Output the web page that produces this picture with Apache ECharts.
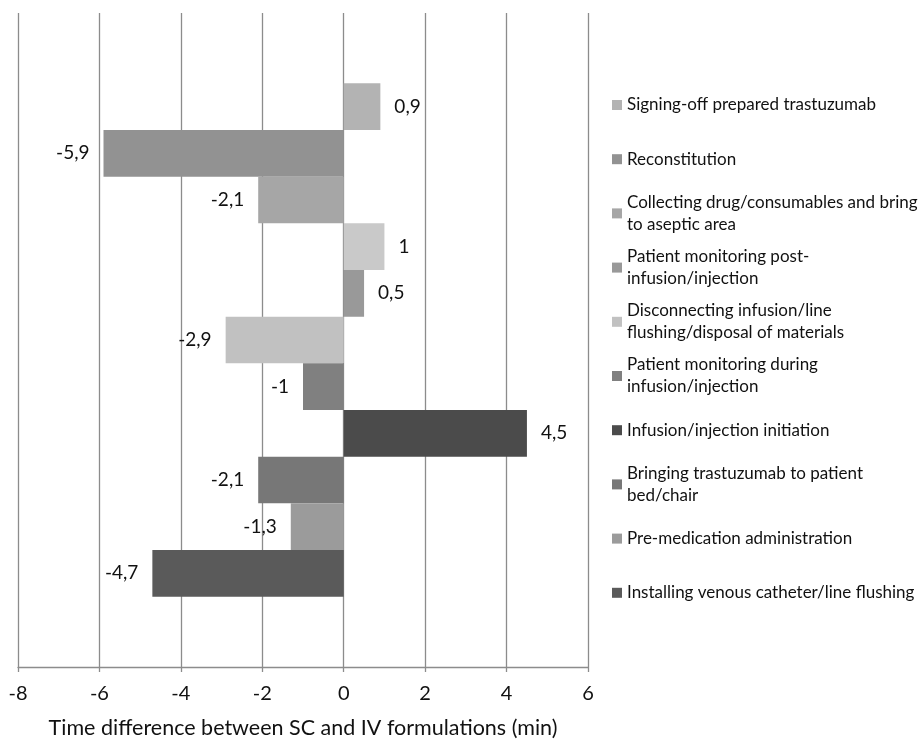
<!DOCTYPE html>
<html>
<head>
<meta charset="utf-8">
<script src="https://cdn.jsdelivr.net/npm/echarts@6/dist/echarts.min.js"></script>
<style>
  html, body { margin: 0; padding: 0; background: #fff; }
  #chart { width: 920px; height: 744px; }
</style>
</head>
<body>
<div id="chart"></div>
<script>
// Process steps, listed top to bottom as the bars are stacked
const steps = [
  'Signing-off prepared trastuzumab',
  'Reconstitution',
  'Collecting drug/consumables and bring\nto aseptic area',
  '',
  'Patient monitoring post-\ninfusion/injection',
  'Disconnecting infusion/line\nflushing/disposal of materials',
  'Patient monitoring during\ninfusion/injection',
  'Infusion/injection initiation',
  'Bringing trastuzumab to patient\nbed/chair',
  'Pre-medication administration',
  'Installing venous catheter/line flushing'
];

// SC minus IV time for each step (min)
const timeDiff = [0.9, -5.9, -2.1, 1, 0.5, -2.9, -1, 4.5, -2.1, -1.3, -4.7];

// x-axis range and tick spacing
const xMin = -8;
const xMax = 6;
const xStep = 2;

// grey shade of each bar
const barColors = ['#b3b3b3', '#929292', '#a6a6a6', '#c9c9c9', '#999999', '#c1c1c1',
                   '#808080', '#4b4b4b', '#777777', '#9b9b9b', '#5a5a5a'];

const FONT = 'Lato';
const TEXT = '#111111';
const GRID = '#8c8c8c';
const LH = 22;            // legend line height
const LEGEND_Y0 = 105;    // first legend row (centre of its first line)
const LEGEND_STEP = 54.2; // distance between legend rows

const fmt = v => String(v).replace('.', ',');

const series = timeDiff.map((v, i) => ({
  type: 'bar',
  name: steps[i] || ('step' + (i + 1)),
  data: [v],
  barGap: '0%',
  barCategoryGap: '21.5%',
  itemStyle: { color: barColors[i] },
  label: {
    show: true,
    position: v >= 0 ? 'right' : 'left',
    distance: 14,
    fontFamily: FONT,
    fontSize: 19,
    color: TEXT,
    formatter: p => fmt(p.value)
  }
}));

// one legend block per labelled step, rows evenly spaced
const legends = [];
let row = 0;
steps.forEach(s => {
  if (!s) return;
  const lines = s.split('\n').length;
  const c = LEGEND_Y0 + LEGEND_STEP * row++;
  legends.push({
    left: 612,
    top: lines > 1 ? c - 1.5 * LH : c - 0.5 * LH,
    orient: 'vertical',
    padding: 0,
    itemGap: 0,
    itemWidth: 10,
    itemHeight: 10,
    icon: 'rect',
    selectedMode: false,
    data: [s],
    textStyle: {
      fontFamily: FONT,
      fontSize: 17,
      color: TEXT,
      lineHeight: LH,
      padding: lines > 1 ? [LH, 0, 0, 0] : 0
    }
  });
});

const chart = echarts.init(document.getElementById('chart'), null, { renderer: 'canvas' });
chart.setOption({
  animation: false,
  backgroundColor: '#fff',
  grid: { left: 18, right: 332, top: 13, bottom: 71 },
  legend: legends,
  xAxis: {
    type: 'value',
    min: xMin,
    max: xMax,
    interval: xStep,
    name: 'Time difference between SC and IV formulations (min)',
    nameLocation: 'middle',
    nameGap: 50,
    nameTextStyle: { fontFamily: FONT, fontSize: 21.5, color: TEXT },
    axisLine: { show: true, onZero: false, lineStyle: { color: GRID, width: 1.3 } },
    axisTick: { show: true, length: 5, lineStyle: { color: GRID, width: 1.3 } },
    axisLabel: { fontFamily: FONT, fontSize: 20, color: TEXT, margin: 17, formatter: v => fmt(v) },
    splitLine: { show: true, lineStyle: { color: GRID, width: 1.3 } }
  },
  yAxis: {
    type: 'category',
    data: ['steps'],
    inverse: true,
    axisLine: { show: false },
    axisTick: { show: false },
    axisLabel: { show: false },
    splitLine: { show: false }
  },
  series: series
});
</script>
</body>
</html>
